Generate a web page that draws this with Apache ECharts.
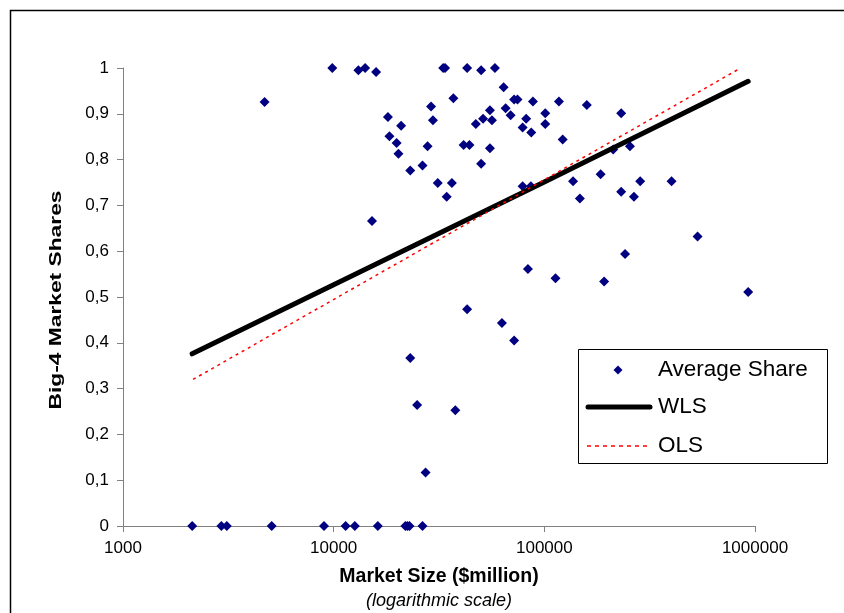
<!DOCTYPE html>
<html>
<head>
<meta charset="utf-8">
<script src="https://cdn.jsdelivr.net/npm/echarts@6/dist/echarts.min.js"></script>
<style>
  html, body { margin: 0; padding: 0; background: #fff; }
  #chart { width: 844px; height: 613px; }
</style>
</head>
<body>
<div id="chart"></div>
<script>
// Market size ($million) and average Big-4 share per market
const marketSize = [
  4700, 9850, 13100, 14100, 15900, 33100, 33800, 43000, 50100, 58300,
  64100, 37000, 71900, 74600, 88300, 117300, 29000, 55200, 65500, 101000,
  69200, 18100, 29600, 51200, 56400, 82000, 20900, 47300, 78900, 101000,
  86700, 18400, 19900, 122200, 20300, 27900, 41400, 44100, 55200, 50100,
  26400, 23100, 31200, 36400, 34400, 78900, 86300, 136900, 147500, 15200,
  83600, 113000, 159100, 231600, 254900, 212200, 185000, 285100, 401700, 231600,
  266200, 533700, 241600, 192200, 928000, 43000, 62900, 71900, 23100, 24900,
  37800, 27300,
  2130, 2930, 3110, 5080, 9000, 11400, 12600, 16200, 21900, 22400, 22900, 26400
];
const averageShare = [
  0.926, 1.000, 0.995, 1.000, 0.991, 1.000, 1.000, 1.000, 0.995, 1.000,
  0.958, 0.934, 0.931, 0.931, 0.927, 0.927, 0.916, 0.908, 0.912, 0.901,
  0.897, 0.893, 0.886, 0.889, 0.886, 0.889, 0.874, 0.878, 0.870, 0.878,
  0.859, 0.851, 0.836, 0.844, 0.813, 0.829, 0.832, 0.832, 0.825, 0.791,
  0.787, 0.776, 0.749, 0.749, 0.719, 0.742, 0.742, 0.753, 0.715, 0.666,
  0.561, 0.541, 0.919, 0.901, 0.829, 0.822, 0.768, 0.753, 0.753, 0.730,
  0.719, 0.632, 0.594, 0.534, 0.511, 0.473, 0.443, 0.405, 0.367, 0.264,
  0.253, 0.117,
  0, 0, 0, 0, 0, 0, 0, 0, 0, 0, 0, 0
];

// Fitted lines
const wlsX = [2130, 10000, 100000, 928000];
const wlsY = [0.376, 0.527, 0.751, 0.971];
const olsX = [2150, 841000];
const olsY = [0.320, 0.998];

const xTicks = [1000, 10000, 100000, 1000000];
const yTicks = [0, 0.1, 0.2, 0.3, 0.4, 0.5, 0.6, 0.7, 0.8, 0.9, 1];

const legendNames = ['Average Share', 'WLS', 'OLS'];

const zip = (xs, ys) => xs.map((x, i) => [x, ys[i]]);
const font = 'Liberation Sans, Arial, sans-serif';
const axisGrey = '#808080';
const navy = '#000080';

const chart = echarts.init(document.getElementById('chart'), null, { renderer: 'canvas' });

// Boxed key in the lower right of the plot
const key = { x: 578.5, y: 349.5, w: 249, h: 114 };
const keyRows = [370, 407, 446];
const keyText = (name, y) => ({
  type: 'text', x: 658, y: y, z: 51,
  style: {
    text: name, fontFamily: font, fontSize: 22.5, fill: '#000',
    align: 'left', verticalAlign: 'middle'
  }
});

chart.setOption({
  animation: false,
  backgroundColor: '#ffffff',
  grid: { left: 123, right: 89, top: 68, bottom: 87, containLabel: false },
  xAxis: {
    type: 'log',
    logBase: 10,
    min: xTicks[0],
    max: xTicks[xTicks.length - 1],
    splitLine: { show: false },
    minorTick: { show: false },
    axisLine: { lineStyle: { color: axisGrey, width: 1 } },
    axisTick: { inside: false, length: 6, lineStyle: { color: axisGrey } },
    axisLabel: {
      color: '#000', fontFamily: font, fontSize: 17, margin: 14,
      formatter: v => String(Math.round(v))
    },
    name: 'Market Size ($million)',
    nameLocation: 'middle',
    nameGap: 41,
    nameTextStyle: { color: '#000', fontFamily: font, fontSize: 19.5, fontWeight: 'bold' }
  },
  yAxis: {
    type: 'value',
    min: yTicks[0],
    max: yTicks[yTicks.length - 1],
    interval: 0.1,
    splitLine: { show: false },
    axisLine: { show: true, lineStyle: { color: axisGrey, width: 1 } },
    axisTick: { show: true, inside: false, length: 6, lineStyle: { color: axisGrey } },
    axisLabel: {
      color: '#000', fontFamily: font, fontSize: 17, margin: 14,
      formatter: v => (v === 0 || v === 1) ? String(v) : v.toFixed(1).replace('.', ',')
    }
  },
  series: [
    {
      name: legendNames[0],
      type: 'scatter',
      symbol: 'diamond',
      symbolSize: 10,
      itemStyle: { color: navy, opacity: 1 },
      data: zip(marketSize, averageShare),
      z: 3
    },
    {
      name: legendNames[1],
      type: 'line',
      symbol: 'none',
      lineStyle: { color: '#000', width: 5, cap: 'round', join: 'round' },
      data: zip(wlsX, wlsY),
      z: 4
    },
    {
      name: legendNames[2],
      type: 'line',
      symbol: 'none',
      lineStyle: { color: '#ff0000', width: 1.5, type: [3, 4] },
      data: zip(olsX, olsY),
      z: 5
    }
  ],
  graphic: [
    {
      type: 'rect',
      shape: { x: 10.5, y: 10.5, width: 900, height: 700 },
      style: { fill: 'none', stroke: '#000', lineWidth: 1.5 },
      silent: true,
      z: -10
    },
    {
      type: 'text',
      x: 56,
      y: 300,
      rotation: Math.PI / 2,
      scaleX: 1.38,
      style: {
        text: 'Big-4 Market Shares',
        fontFamily: font,
        fontSize: 16.5,
        fontWeight: 'bold',
        fill: '#000',
        align: 'center',
        verticalAlign: 'middle'
      }
    },
    {
      type: 'text',
      x: 439,
      y: 601,
      style: {
        text: '(logarithmic scale)',
        fontFamily: font,
        fontSize: 18,
        fontStyle: 'italic',
        fill: '#000',
        align: 'center',
        verticalAlign: 'middle'
      }
    },
    // key box
    {
      type: 'rect', z: 50,
      shape: { x: key.x, y: key.y, width: key.w, height: key.h },
      style: { fill: '#fff', stroke: '#000', lineWidth: 1 }
    },
    {
      type: 'polygon', z: 51,
      shape: { points: [[618, keyRows[0] - 4.5], [622.5, keyRows[0]], [618, keyRows[0] + 4.5], [613.5, keyRows[0]]] },
      style: { fill: navy }
    },
    {
      type: 'line', z: 51,
      shape: { x1: 588, y1: keyRows[1], x2: 650, y2: keyRows[1] },
      style: { stroke: '#000', lineWidth: 5, lineCap: 'round' }
    },
    {
      type: 'line', z: 51,
      shape: { x1: 587, y1: keyRows[2], x2: 651, y2: keyRows[2] },
      style: { stroke: '#ff0000', lineWidth: 1.5, lineDash: [4, 4] }
    },
    keyText(legendNames[0], keyRows[0]),
    keyText(legendNames[1], keyRows[1]),
    keyText(legendNames[2], keyRows[2])
  ]
});
</script>
</body>
</html>
